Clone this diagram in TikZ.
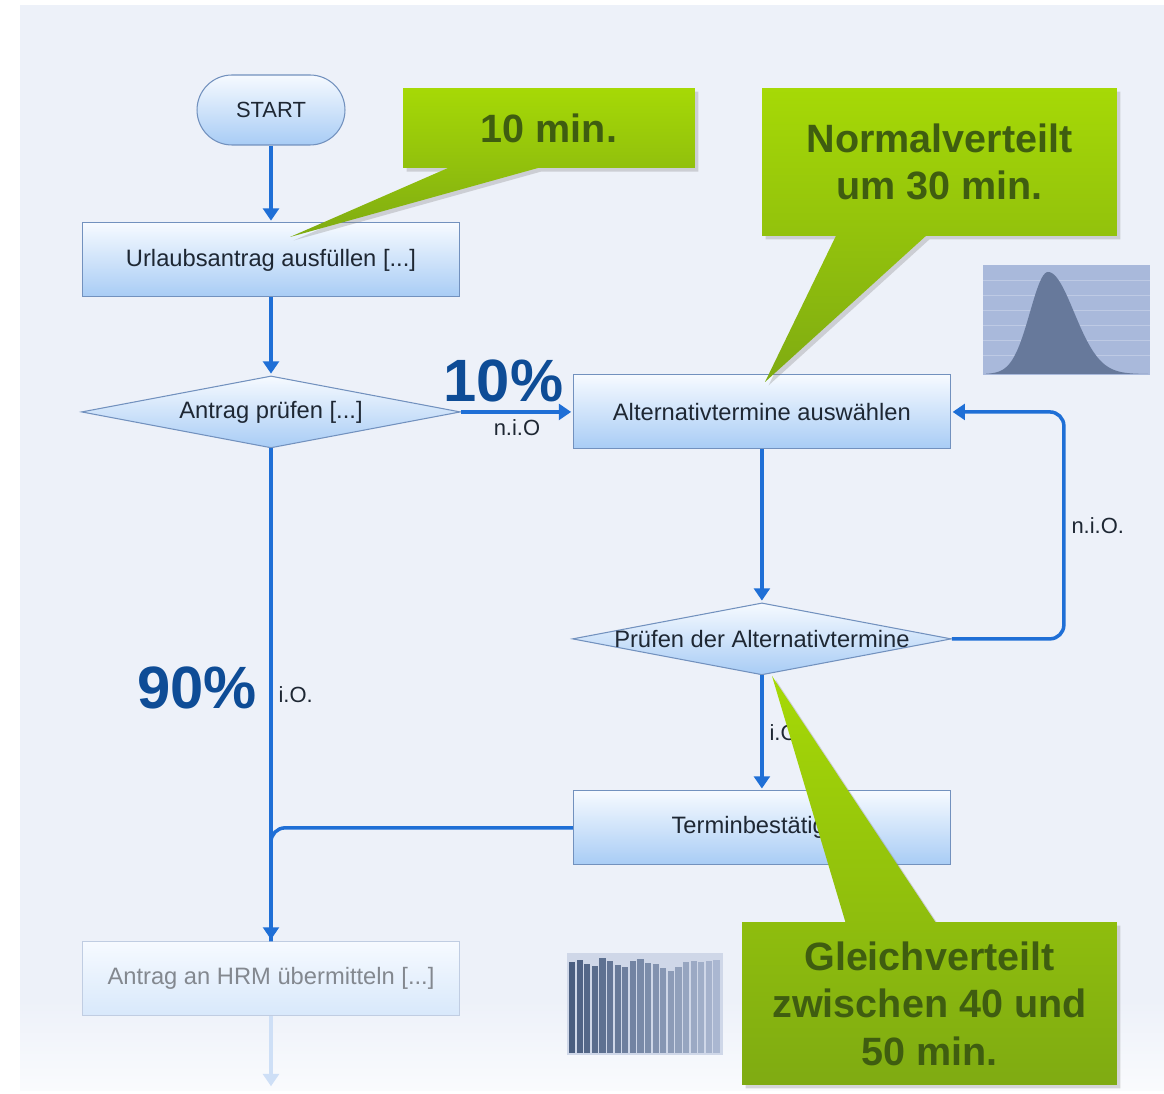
\documentclass[tikz,border=0pt]{standalone}
\usepackage{fontspec}
\setmainfont{Liberation Sans}
\usetikzlibrary{arrows.meta}
\usetikzlibrary{positioning, shapes.geometric, shapes.callouts, shadows}

\definecolor{bgpanel}{HTML}{EDF1F9}
\definecolor{boxtop}{HTML}{F6FAFF}
\definecolor{boxbot}{HTML}{A8CCF5}
\definecolor{boxline}{HTML}{7291BE}
\definecolor{flowblue}{HTML}{1F6FD6}
\definecolor{pctblue}{HTML}{0E4C96}
\definecolor{greentop}{HTML}{A6D906}
\definecolor{greenbot}{HTML}{7FAB12}
\definecolor{greentext}{HTML}{3F5D10}
\definecolor{histbg}{HTML}{A9B9DB}
\definecolor{histdark}{HTML}{4A5E80}
\definecolor{histlight}{HTML}{BAC6DE}
\definecolor{textdark}{HTML}{1E2733}

\begin{document}
\begin{tikzpicture}[x=0.02cm, y=-0.02cm, node distance=3cm, on grid,
    box/.style={rectangle, draw=boxline, line width=0.6pt, top color=boxtop, bottom color=boxbot,
      minimum width=7.54cm, minimum height=1.48cm, text=textdark, font=\fontsize{13.5}{16}\selectfont},
    startbox/.style={box, rounded corners=0.7cm, minimum width=2.96cm, minimum height=1.4cm,
      font=\fontsize{12.5}{15}\selectfont},
    decision/.style={diamond, draw=boxline, line width=0.6pt, top color=boxtop, bottom color=boxbot,
      minimum width=7.58cm, minimum height=1.44cm, inner sep=0pt},
    boxtext/.style={text=textdark, font=\fontsize{13.5}{16}\selectfont},
    flow/.style={draw=flowblue, line width=2pt, shorten >=1pt, -{Triangle[length=7pt,width=9pt]}},
    flowline/.style={draw=flowblue, line width=2pt},
    edgelabel/.style={text=textdark, font=\fontsize{12.5}{14}\selectfont},
    percent/.style={text=pctblue, font=\fontsize{34}{40}\selectfont\bfseries},
    note/.style={rectangle callout, top color=greentop, bottom color=greenbot, draw=none,
      text=greentext, align=center, callout pointer width=1.8cm,
      font=\fontsize{22.5}{27}\selectfont\bfseries,
      drop shadow={opacity=0.3, shadow xshift=2pt, shadow yshift=-2pt}}]

% background
\useasboundingbox (0,0) rectangle (1164,1094);
\fill[white] (0,0) rectangle (1164,1094);
\fill[bgpanel] (20,5) rectangle (1164,1000);
\shade[top color=bgpanel, bottom color=white!70!bgpanel] (20,1000) rectangle (1164,1090);

% histograms
\fill[histbg] (983,265) rectangle (1150,375);
\foreach \y in {280,295,310,325,340,355}
  \draw[white, opacity=0.25, line width=0.3pt] (983,\y) -- (1150,\y);
\fill[histdark!70!histbg] (986,374)
  -- plot[domain=986:1048, samples=40] (\x,{374-102*exp(-((\x-1048)^2)/(2*18^2))})
  -- plot[domain=1048:1148, samples=50] (\x,{374-102*exp(-((\x-1048)^2)/(2*26^2))})
  -- (1148,374) -- cycle;

\fill[histlight!70!white] (567,953) rectangle (723,1055);
\foreach \h [count=\i from 0] in {962,960,964,966,958,961,965,967,961,959,963,964,968,971,967,962,961,962,961,960} {
  \pgfmathtruncatemacro\mix{100-4.5*\i}
  \fill[histdark!\mix!histlight] ({569+7.6*\i},\h) rectangle ({569+7.6*\i+6.2},1053);
}

% flow nodes
\node[startbox] (start) at (271,110) {START};
\node[box] (fill) [below=3cm of start] {Urlaubsantrag ausfüllen [...]};
\node[decision, label={[boxtext]center:{Antrag prüfen [...]}}] (check) [below=3.04cm of fill] {};
\node[box] (alt) [right=9.82cm of check] {Alternativtermine auswählen};
\node[decision, label={[boxtext]center:{Prüfen der Alternativtermine}}] (altcheck) [below=4.54cm of alt] {};
\node[box] (confirm) [below=3.78cm of altcheck] {Terminbestätigen};
\node[box, draw=boxline!45!white, top color=boxtop, bottom color=boxbot!45!white,
  text=textdark!55!white] (hrm) [below=11.34cm of check] {Antrag an HRM übermitteln [...]};
\coordinate (out) at (271,1088);

% connectors
\draw[flow] (start) -- (fill);
\draw[flow] (fill) -- (check);
\draw[flow] (check.east) -- node[below, edgelabel] (nio1) {n.i.O}
  node[pos=.38, above=1pt, percent] (p10) {10\%} (alt.west);
\draw[flow] (check.south) -- node[right, edgelabel] (io1) {i.O.} (hrm.north);
\node[percent] (p90) at (197,688) {90\%};
\draw[flow] (alt) -- (altcheck);
\draw[flow, rounded corners=8pt] (altcheck.east) -- ++(112,0)
  |- node[pos=.25, right, edgelabel] (nio2) {n.i.O.} (alt.east);
\draw[flow] (altcheck.south) -- node[right, edgelabel] (io2) {i.O.} (confirm.north);
\draw[flowline, rounded corners=8pt] (confirm.west) -| (hrm.north);
\draw[flow, draw=flowblue!22!white] (hrm.south) -- (out);

% callouts
\node[note, minimum width=5.84cm, minimum height=1.6cm,
  callout absolute pointer={(290,237)}] (t_fill) at (549,128) {10 min.};
\node[note, minimum width=7.1cm, minimum height=2.96cm,
  callout absolute pointer={(765,382)}] (t_alt) at (939.5,162) {Normalverteilt\\um 30 min.};
\node[note, minimum width=7.5cm, minimum height=3.26cm,
  callout absolute pointer={(772,676)}] (t_check) at (929.5,1003.5) {Gleichverteilt\\zwischen 40 und\\50 min.};
\end{tikzpicture}
\end{document}
